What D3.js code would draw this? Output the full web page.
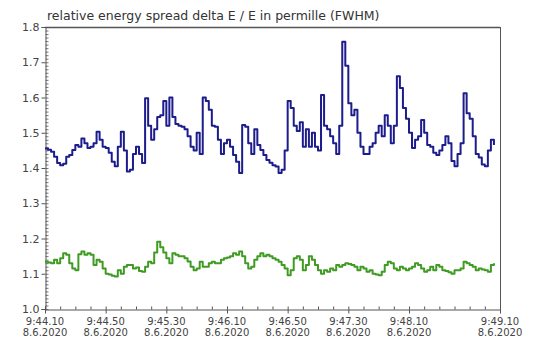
<!DOCTYPE html>
<html>
<head>
<meta charset="utf-8">
<script src="https://cdn.jsdelivr.net/npm/d3@7"></script>
<style>
  body { margin: 0; background: #fff; }
  text { font-family: "DejaVu Sans", sans-serif; }
</style>
</head>
<body>
<svg id="chart"></svg>
<script>
var w = 548, h = 345; // canvas size
var x_left = 45, x_right = 500; // plot box
var y_top = 27, y_bottom = 309;

var title = "relative energy spread delta E / E in permille (FWHM)";

// samples: one every 2 seconds from 9:44:10 on 8.6.2020
var t_start = new Date(2020, 5, 8, 9, 44, 10);
var t_end = new Date(2020, 5, 8, 9, 49, 10);
var step_sec = 2;

var blue_vals = [1.455, 1.452, 1.446, 1.432, 1.414, 1.408, 1.412, 1.432, 1.437, 1.451,
  1.465, 1.46, 1.484, 1.47, 1.457, 1.46, 1.47, 1.503, 1.48, 1.46,
  1.457, 1.443, 1.418, 1.405, 1.46, 1.503, 1.45, 1.39, 1.395, 1.44,
  1.46, 1.44, 1.414, 1.598, 1.52, 1.48, 1.51, 1.545, 1.55, 1.59,
  1.52, 1.60, 1.545, 1.525, 1.52, 1.517, 1.51, 1.49, 1.46, 1.45,
  1.50, 1.44, 1.60, 1.59, 1.565, 1.52, 1.517, 1.48, 1.44, 1.47,
  1.48, 1.46, 1.437, 1.418, 1.386, 1.522, 1.517, 1.47, 1.44, 1.51,
  1.465, 1.451, 1.437, 1.423, 1.415, 1.408, 1.404, 1.386, 1.395, 1.45,
  1.59, 1.57, 1.52, 1.505, 1.53, 1.46, 1.51, 1.46, 1.50, 1.46,
  1.45, 1.607, 1.52, 1.51, 1.49, 1.47, 1.44, 1.52, 1.758, 1.69,
  1.584, 1.55, 1.565, 1.50, 1.46, 1.44, 1.44, 1.46, 1.47, 1.50,
  1.52, 1.49, 1.55, 1.52, 1.47, 1.52, 1.66, 1.627, 1.57, 1.54,
  1.50, 1.457, 1.48, 1.49, 1.536, 1.50, 1.465, 1.46, 1.443, 1.437,
  1.45, 1.465, 1.49, 1.47, 1.42, 1.405, 1.44, 1.47, 1.612, 1.555,
  1.54, 1.49, 1.44, 1.43, 1.41, 1.405, 1.45, 1.48, 1.465];

var green_vals = [1.134, 1.132, 1.13, 1.14, 1.13, 1.144, 1.158, 1.154, 1.13, 1.115,
  1.11, 1.155, 1.163, 1.154, 1.158, 1.154, 1.125, 1.14, 1.134, 1.115,
  1.10, 1.098, 1.094, 1.092, 1.11, 1.10, 1.12, 1.125, 1.125, 1.115,
  1.118, 1.108, 1.106, 1.12, 1.134, 1.13, 1.16, 1.191, 1.175, 1.16,
  1.144, 1.13, 1.158, 1.154, 1.15, 1.15, 1.144, 1.135, 1.12, 1.11,
  1.115, 1.134, 1.12, 1.12, 1.13, 1.134, 1.13, 1.13, 1.14, 1.144,
  1.146, 1.15, 1.158, 1.154, 1.163, 1.15, 1.13, 1.115, 1.12, 1.14,
  1.15, 1.158, 1.15, 1.154, 1.15, 1.144, 1.14, 1.134, 1.125, 1.115,
  1.096, 1.11, 1.144, 1.15, 1.14, 1.11, 1.125, 1.15, 1.14, 1.125,
  1.11, 1.10, 1.11, 1.106, 1.115, 1.11, 1.125, 1.12, 1.125, 1.13,
  1.128, 1.125, 1.12, 1.11, 1.12, 1.115, 1.106, 1.11, 1.10, 1.098,
  1.096, 1.106, 1.125, 1.134, 1.13, 1.115, 1.11, 1.12, 1.115, 1.11,
  1.115, 1.12, 1.13, 1.125, 1.115, 1.106, 1.11, 1.12, 1.11, 1.125,
  1.12, 1.11, 1.108, 1.104, 1.10, 1.11, 1.11, 1.115, 1.134, 1.13,
  1.125, 1.12, 1.11, 1.115, 1.112, 1.11, 1.106, 1.125, 1.13];

// labelled x ticks (the 9:48.50 one has no label in the original)
var x_tick_secs = [0, 40, 80, 120, 160, 200, 240, 300];
var x_tick_time = ["9:44.10", "9:44.50", "9:45.30", "9:46.10", "9:46.50", "9:47.30", "9:48.10", "9:49.10"];
var x_tick_date = "8.6.2020";

var y_ticks = [1.0, 1.1, 1.2, 1.3, 1.4, 1.5, 1.6, 1.7, 1.8];
var y_tick_labels = ["1.0", "1.1", "1.2", "1.3", "1.4", "1.5", "1.6", "1.7", "1.8"];

// Helper: seconds after start -> Date
function secs(s) {
  return new Date(t_start.getTime() + s * 1000);
}

var svg = d3.select("#chart").attr("width", w).attr("height", h);

var x = d3.scaleTime().domain([t_start, t_end]).range([x_left, x_right]);
var y = d3.scaleLinear().domain([1.0, 1.8]).range([y_bottom, y_top]);

var axis_col = "#555";
var text_col = "#444";

// title
svg.append("text")
  .attr("x", 47).attr("y", 20)
  .attr("font-size", 12.5)
  .attr("fill", "#333")
  .text(title);

// box lines (top and right)
svg.append("line").attr("x1", x_left).attr("x2", x_right).attr("y1", y_top + 0.5).attr("y2", y_top + 0.5)
  .attr("stroke", axis_col).attr("stroke-width", 1.5);
svg.append("line").attr("x1", x_right + 0.5).attr("x2", x_right + 0.5).attr("y1", y_top).attr("y2", y_bottom)
  .attr("stroke", axis_col);

// y axis: major ticks outside, minor ticks inside
var yMajor = d3.axisLeft(y).tickValues(y_ticks).tickSize(4).tickPadding(2)
  .tickFormat(function(d, i) { return y_tick_labels[i]; });
var gy = svg.append("g").attr("transform", "translate(" + (x_left + 0.5) + ",0)").call(yMajor);
gy.select(".domain").attr("stroke", axis_col);
gy.selectAll(".tick line").attr("stroke", axis_col);
gy.selectAll(".tick text").attr("fill", text_col).attr("font-size", 11)
  .attr("font-family", "DejaVu Sans, sans-serif");

var yMinor = d3.axisRight(y).ticks(80).tickSize(3).tickFormat("");
var gym = svg.append("g").attr("transform", "translate(" + (x_left + 0.5) + ",0)").call(yMinor);
gym.select(".domain").remove();
gym.selectAll(".tick line").attr("stroke", axis_col).attr("stroke-width", 0.8);

// x axis
var xMinor = d3.axisTop(x).ticks(d3.timeSecond.every(10)).tickSize(3).tickFormat("");
var gxm = svg.append("g").attr("transform", "translate(0," + (y_bottom + 0.5) + ")").call(xMinor);
gxm.select(".domain").attr("stroke", axis_col);
gxm.selectAll(".tick line").attr("stroke", axis_col);

var xMajor = d3.axisBottom(x).tickValues(x_tick_secs.map(secs)).tickSize(4).tickFormat("");
var gx = svg.append("g").attr("transform", "translate(0," + (y_bottom + 0.5) + ")").call(xMajor);
gx.select(".domain").remove();
gx.selectAll(".tick line").attr("stroke", axis_col);

var xl = svg.append("g").selectAll("text").data(x_tick_secs).enter().append("text")
  .attr("x", function(d) { return x(secs(d)); })
  .attr("y", 324.5)
  .attr("text-anchor", "middle")
  .attr("font-size", 10)
  .attr("fill", text_col);
xl.append("tspan").attr("x", function(d) { return x(secs(d)); })
  .text(function(d, i) { return x_tick_time[i]; });
xl.append("tspan").attr("x", function(d) { return x(secs(d)); }).attr("dy", 11.6)
  .text(x_tick_date);

// series
var line = d3.line()
  .x(function(d, i) { return x(secs(i * step_sec)); })
  .y(function(d) { return y(d); })
  .curve(d3.curveStepAfter);

svg.append("path").datum(green_vals)
  .attr("fill", "none").attr("stroke", "#3f9b22").attr("stroke-width", 2)
  .attr("stroke-linejoin", "round").attr("d", line);

svg.append("path").datum(blue_vals)
  .attr("fill", "none").attr("stroke", "#1c1c8c").attr("stroke-width", 2)
  .attr("stroke-linejoin", "round").attr("d", line);
</script>
</body>
</html>
